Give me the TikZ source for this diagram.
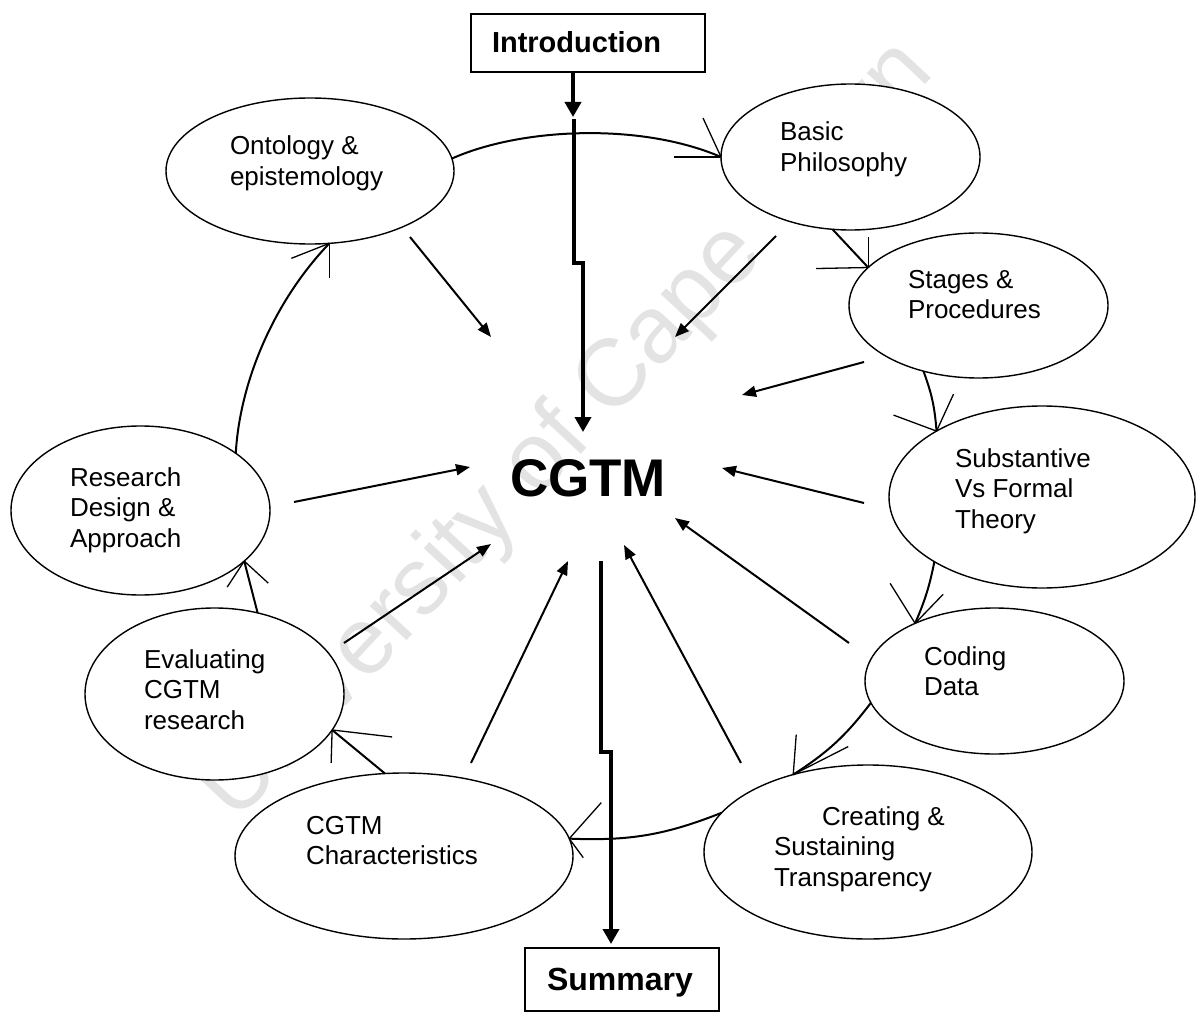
\documentclass[tikz,border=0pt]{standalone}
\usepackage{fontspec}
\setmainfont{Liberation Sans}
\usetikzlibrary{arrows.meta,shapes.geometric}
\newcommand{\bubtext}[1]{\begin{tabular}[t]{@{}l@{}}#1\end{tabular}}
\begin{document}
\begin{tikzpicture}[x=1pt,y=-1pt,
  bubble/.style={ellipse,draw,line width=1.4pt,fill=white,inner sep=0pt,outer sep=0pt},
  heading/.style={draw,line width=1.5pt,fill=white,inner sep=0pt,outer sep=0pt,anchor=north west},
  bubtxt/.style={anchor=base west,inner sep=0pt,outer sep=0pt,font=\fontsize{26pt}{30.5pt}\selectfont},
  boxtxt/.style={anchor=base west,inner sep=0pt,outer sep=0pt},
  link/.style={line width=2pt},
  barb/.style={line width=1.3pt},
  spoke/.style={line width=2pt,-{Triangle[length=14pt,width=11pt]}},
  heavy/.style={line width=3.6pt},
  heavytip/.style={-{Triangle[length=15pt,width=16pt]}},
]
\useasboundingbox (0,0) rectangle (1196,1016);

% faint background stamp
\node[rotate=47,text=black!11,font=\fontsize{95pt}{95pt}\selectfont,inner sep=0pt] (mark) at (568,432) {University of Cape Town};

% title boxes
\node[heading,minimum width=234pt,minimum height=58pt] (intro) at (471,14) {};
\node[heading,minimum width=194pt,minimum height=63pt] (summary) at (525,948) {};

% the nine topics round the centre
\node[bubble,minimum width=288pt,minimum height=146pt] (onto) at (310,171) {};
\node[bubble,minimum width=259pt,minimum height=146pt] (basic) at (850.5,157) {};
\node[bubble,minimum width=259pt,minimum height=145pt] (stages) at (978.5,305.5) {};
\node[bubble,minimum width=306pt,minimum height=182pt] (subst) at (1042,497) {};
\node[bubble,minimum width=259pt,minimum height=146pt] (coding) at (994.5,681) {};
\node[bubble,minimum width=328pt,minimum height=174pt] (creating) at (868,852) {};
\node[bubble,minimum width=338pt,minimum height=166pt] (charac) at (404,856) {};
\node[bubble,minimum width=259pt,minimum height=172pt] (evalu) at (214.5,694) {};
\node[bubble,minimum width=259pt,minimum height=169pt] (research) at (140.5,510.5) {};

% cycle connectors
\draw[link] (onto.5) .. controls (520,128) and (640,122) .. (basic.180);
\draw[link] (basic.256) -- (stages.161);
\draw[link] (stages.230) to[bend left=8] (subst.148);
\draw[link] (subst.211) to[bend left=6] (coding.144);
\draw[link] (coding.190) to[bend left=10] (creating.134);
\draw[link] (creating.165) to[bend left=12] (charac.6);
\draw[link] (charac.103) -- (evalu.343);
\draw[link] (evalu.62) -- (research.334);
\draw[link] (research.31) .. controls (240,380) and (275,300) .. (onto.285);

% open arrowheads of the cycle
\draw[barb] (basic.180) -- ++(-47,0);   \draw[barb] (basic.180) -- ++(-18,-39);
\draw[barb] (stages.161) -- ++(0,-31);  \draw[barb] (stages.161) -- ++(-52,1);
\draw[barb] (subst.148) -- ++(17,-37);  \draw[barb] (subst.148) -- ++(-43,-16);
\draw[barb] (coding.144) -- ++(-25,-40); \draw[barb] (coding.144) -- ++(28,-29);
\draw[barb] (creating.134) -- ++(3,-40); \draw[barb] (creating.134) -- ++(55,-28);
\draw[barb] (charac.6) -- ++(32,-36);   \draw[barb] (charac.6) -- ++(14,19);
\draw[barb] (evalu.343) -- ++(-1,33);   \draw[barb] (evalu.343) -- ++(60,7);
\draw[barb] (research.334) -- ++(-17,26); \draw[barb] (research.334) -- ++(24,22);
\draw[barb] (onto.285) -- ++(-38,15);   \draw[barb] (onto.285) -- ++(0,35);

% centre label
\node[boxtxt,font=\bfseries\fontsize{53pt}{60pt}\selectfont] (cgtm) at (510,496) {CGTM};

% spokes into the centre
\coordinate (s1a) at (410,237); \coordinate (s1b) at (491,337);
\coordinate (s2a) at (776,236); \coordinate (s2b) at (675,337);
\coordinate (s3a) at (864,362); \coordinate (s3b) at (742,395);
\coordinate (s4a) at (864,503); \coordinate (s4b) at (722,468);
\coordinate (s5a) at (849,643); \coordinate (s5b) at (675,518);
\coordinate (s6a) at (741,763); \coordinate (s6b) at (624,545);
\coordinate (s7a) at (471,763); \coordinate (s7b) at (568,561);
\coordinate (s8a) at (344,643); \coordinate (s8b) at (491,544);
\coordinate (s9a) at (294,502); \coordinate (s9b) at (470,467);
\foreach \i in {1,...,9} { \draw[spoke] (s\i a) -- (s\i b); }

% heavy path from the introduction down to the centre
\draw[heavy,heavytip] ([xshift=-15pt]intro.south) -- ++(0,45);
\coordinate (zig) at (574,119);
\coordinate (zigend) at (583,432);
\draw[heavy,heavytip] (zig) -- ++(0,144) -- ++(9,0) -- (zigend);

% heavy path from the centre down to the summary
\coordinate (zag) at (601,561);
\coordinate (zagend) at (611,944);
\draw[heavy,heavytip] (zag) -- ++(0,191) -- ++(10,0) -- (zagend);

% texts
\node[boxtxt,font=\bfseries\fontsize{29pt}{34pt}\selectfont] (introtxt) at (492,53) {Introduction};
\node[boxtxt,font=\bfseries\fontsize{32pt}{38pt}\selectfont] (sumtxt) at (547,990) {Summary};
\node[bubtxt] (ontotxt) at (230,155) {\bubtext{Ontology \&\\epistemology}};
\node[bubtxt] (basictxt) at (780,141) {\bubtext{Basic\\Philosophy}};
\node[bubtxt] (stagestxt) at (908,288) {\bubtext{Stages \&\\Procedures}};
\node[bubtxt] (substtxt) at (955,467) {\bubtext{Substantive\\Vs Formal\\Theory}};
\node[bubtxt] (codingtxt) at (924,665) {\bubtext{Coding\\Data}};
\node[bubtxt] (creatingtxt) at (774,825) {\bubtext{\hspace*{48pt}Creating \&\\Sustaining\\Transparency}};
\node[bubtxt] (charactxt) at (306,834) {\bubtext{CGTM\\Characteristics}};
\node[bubtxt] (evalutxt) at (144,668) {\bubtext{Evaluating\\CGTM\\research}};
\node[bubtxt] (researchtxt) at (70,486) {\bubtext{Research\\Design \&\\Approach}};
\end{tikzpicture}
\end{document}
